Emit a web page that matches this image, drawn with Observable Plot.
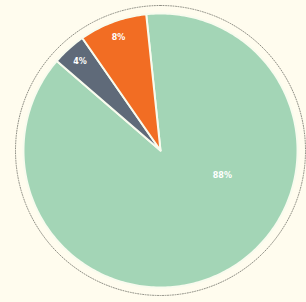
<!DOCTYPE html>
<html><head><meta charset="utf-8">
<script src="https://cdn.jsdelivr.net/npm/d3@7"></script>
<script src="https://cdn.jsdelivr.net/npm/@observablehq/plot@0.6"></script>
<style>html,body{margin:0;padding:0;background:#fffcee;overflow:hidden}</style>
</head><body><div id="chart"></div>
<script>
const categories = ["A", "B", "C"];
const values = [88, 4, 8];
const labels = ["88%", "4%", "8%"];
const colors = ["#a3d5b6", "#5f6a79", "#f26d23"];

const total = d3.sum(values);
const startDeg = -6;
const R = 0.945;
const slices = [];
const polys = [];
let a0 = startDeg;
categories.forEach((c, i) => {
  const span = values[i] / total * 360;
  const a1 = a0 + span;
  slices.push({c, a0, a1, label: labels[i], span});
  polys.push({c, x: 0, y: 0});
  const n = Math.max(4, Math.ceil(span));
  for (let k = 0; k <= n; k++) {
    const t = (a0 + span * k / n) * Math.PI / 180;
    polys.push({c, x: R * Math.sin(t), y: R * Math.cos(t)});
  }
  polys.push({c, x: 0, y: 0});
  a0 = a1;
});
const ring = d3.range(0, 361, 1).map(d => ({x: Math.sin(d*Math.PI/180), y: Math.cos(d*Math.PI/180)}));
const labelPts = slices.map(s => {
  const big = s.span > 180;
  const ang = (big ? 112 : (s.a0 + s.a1) / 2) * Math.PI / 180;
  const r = big ? 0.46 : 0.83;
  return {x: r * Math.sin(ang), y: r * Math.cos(ang), label: s.label};
});

const chart = Plot.plot({
  width: 306, height: 302,
  marginLeft: 15, marginRight: 1, marginTop: 5, marginBottom: 7,
  x: {domain: [-1, 1], axis: null},
  y: {domain: [-1, 1], axis: null},
  color: {domain: categories, range: colors},
  style: {background: "#fffcee", overflow: "visible"},
  marks: [
    Plot.line(ring, {x: "x", y: "y", stroke: "#8f8f85", strokeWidth: 1, strokeDasharray: "1,1.5"}),
    Plot.line(polys, {x: "x", y: "y", z: "c", fill: "c", stroke: "#f8fbee", strokeWidth: 2, strokeLinejoin: "round"}),
    Plot.text(labelPts, {x: "x", y: "y", text: "label", fill: "white", fontSize: 8, fontWeight: "bold", fontFamily: "DejaVu Sans"})
  ]
});
document.getElementById("chart").appendChild(chart);
</script></body></html>
